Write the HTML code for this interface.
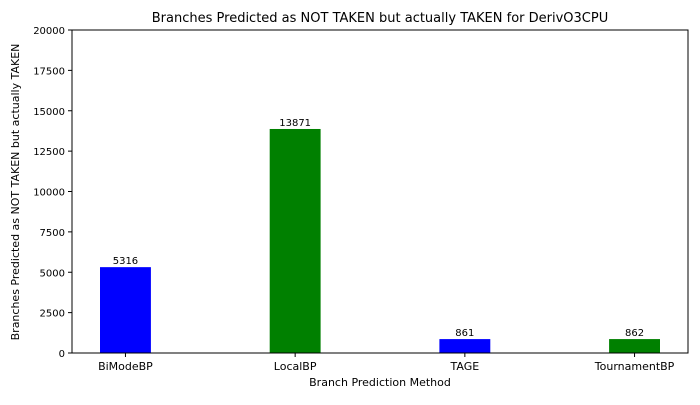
<!DOCTYPE html>
<html><head><meta charset="utf-8"><style>
body{margin:0;background:#fff;font-family:"Liberation Sans","DejaVu Sans",sans-serif;}
svg text{font-family:"DejaVu Sans","Liberation Sans",sans-serif;}
</style></head><body>
<svg id="chart" width="700" height="400" xmlns="http://www.w3.org/2000/svg">
<rect width="700" height="400" fill="#fff"/>
<text x="380" y="22" font-size="13" text-anchor="middle">Branches Predicted as NOT TAKEN but actually TAKEN for DerivO3CPU</text>
<text x="380" y="386" font-size="11" text-anchor="middle">Branch Prediction Method</text>
<text transform="translate(19,192) rotate(-90)" font-size="11" text-anchor="middle">Branches Predicted as NOT TAKEN but actually TAKEN</text>
<g id="marks"></g>
<rect x="72" y="30" width="616" height="323" fill="none" stroke="#000" stroke-width="1"/>
</svg>
<script>
const categories = ["BiModeBP","LocalBP","TAGE","TournamentBP"];
const values = [5316,13871,861,862];
const colors = ["blue","green","blue","green"];
const yTicks = [0,2500,5000,7500,10000,12500,15000,17500,20000];
const L=72,R=688,T=30,B=353,ymax=20000,xmin=-0.315,xmax=3.315,bw=0.3;
const xs=v=>L+(v-xmin)/(xmax-xmin)*(R-L);
const ys=v=>B-v/ymax*(B-T);
const g=document.getElementById('marks');
const NS="http://www.w3.org/2000/svg";
function mk(t,a){const e=document.createElementNS(NS,t);for(const k in a)e.setAttribute(k,a[k]);g.appendChild(e);return e;}
yTicks.forEach(v=>{
  const l=mk('line',{x1:L-4,x2:L,y1:ys(v),y2:ys(v),stroke:'#000'});
  
  
  const t=mk('text',{x:L-7,y:ys(v)+4,'font-size':10,'text-anchor':'end'});t.textContent=v;
  
  
});
categories.forEach((c,i)=>{
  const r=mk('rect',{x:xs(i-bw/2),y:ys(values[i]),width:xs(i+bw/2)-xs(i-bw/2),height:B-ys(values[i]),fill:colors[i]});
  
  
  const v=mk('text',{x:xs(i),y:ys(values[i])-3,'font-size':10,'text-anchor':'middle'});v.textContent=values[i];
  
  
  const tk=mk('line',{x1:xs(i),x2:xs(i),y1:B,y2:B+4,stroke:'#000'});
  
  
  const t=mk('text',{x:xs(i),y:B+17,'font-size':11,'text-anchor':'middle'});t.textContent=c;
  
  
});
</script>
</body></html>
